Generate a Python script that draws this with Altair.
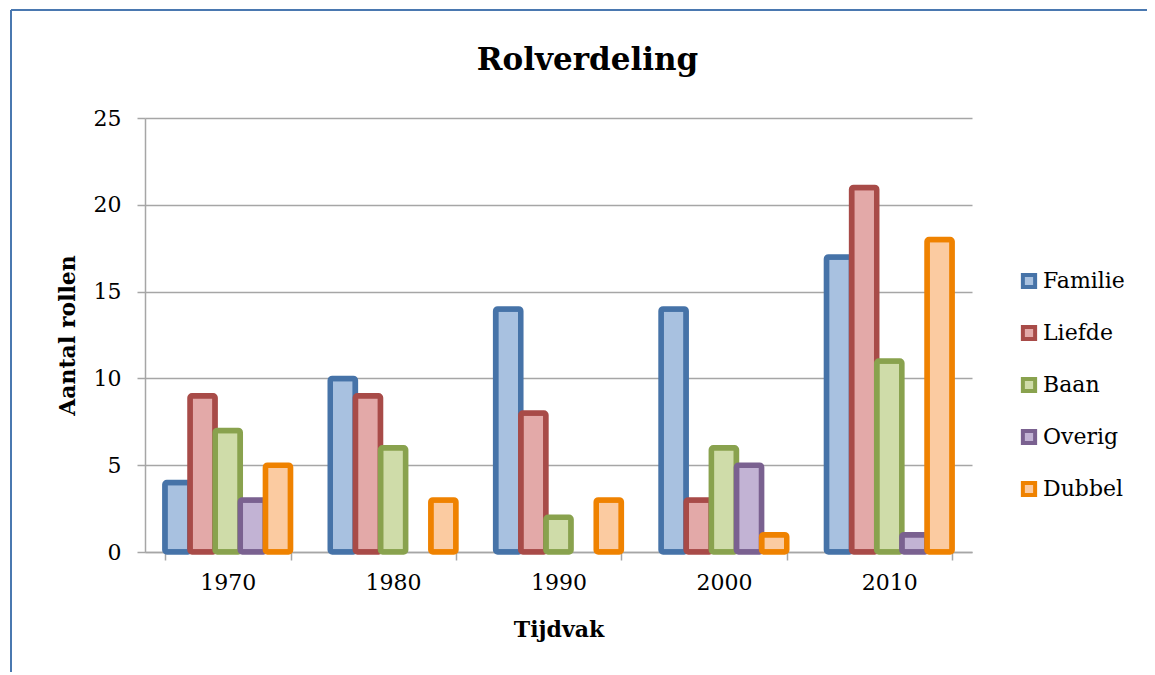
import altair as alt
import pandas as pd

periods = ["1970", "1980", "1990", "2000", "2010"]
series = ["Familie", "Liefde", "Baan", "Overig", "Dubbel"]
familie = [4, 10, 14, 14, 17]
liefde = [9, 9, 8, 3, 21]
baan = [7, 6, 2, 6, 11]
overig = [3, 0, 0, 5, 1]
dubbel = [5, 3, 3, 1, 18]
y_ticks = [0, 5, 10, 15, 20, 25]

stroke_colors = ["#4673a8", "#a84b48", "#89a24e", "#7a6190", "#ef8200"]
fill_colors = ["#a8c1e0", "#e3a9a8", "#cfdca9", "#c2b3d4", "#fbcba1"]

rows = []
for name, vals in zip(series, [familie, liefde, baan, overig, dubbel]):
    for p, v in zip(periods, vals):
        rows.append({"Tijdvak": p, "Reeks": name, "Aantal": v})
df = pd.DataFrame(rows)

FONT = "DejaVu Serif"

legend_props = dict(title=None, orient="none", legendX=873, legendY=152,
                    symbolType="square", symbolSize=150, symbolStrokeWidth=4,
                    labelFontSize=22, labelFont=FONT, labelColor="black",
                    labelOffset=3, rowPadding=22)

bars = alt.Chart(df).transform_filter(alt.datum.Aantal > 0).mark_bar(
    strokeWidth=5.5, cornerRadius=2
).encode(
    x=alt.X("Tijdvak:N", sort=periods,
            scale=alt.Scale(paddingInner=0.24, paddingOuter=0.12),
            axis=alt.Axis(title="Tijdvak", labelAngle=0, tickBand="extent",
                          grid=False, tickSize=8, labelPadding=12,
                          titlePadding=26)),
    xOffset=alt.XOffset("Reeks:N", sort=series, scale=alt.Scale(domain=series)),
    y=alt.Y("Aantal:Q", scale=alt.Scale(domain=[0, 25]),
            axis=alt.Axis(title="Aantal rollen", values=y_ticks, tickSize=8,
                          labelPadding=16, titlePadding=14)),
    fill=alt.Fill("Reeks:N", scale=alt.Scale(domain=series, range=fill_colors),
                  legend=alt.Legend(**legend_props)),
    stroke=alt.Stroke("Reeks:N", scale=alt.Scale(domain=series, range=stroke_colors),
                      legend=alt.Legend(**legend_props)),
)

frame_df = pd.DataFrame({"k": [0]})
top_line = alt.Chart(frame_df).mark_rule(color="#4a78b0", strokeWidth=2).encode(
    x=alt.value(-134), x2=alt.value(1010), y=alt.value(-108)
)
left_line = alt.Chart(frame_df).mark_rule(color="#4a78b0", strokeWidth=2).encode(
    x=alt.value(-134), y=alt.value(-108), y2=alt.value(575)
)

chart = alt.layer(bars, top_line, left_line).properties(
    width=827, height=434,
    autosize=alt.AutoSizeParams(type="none"),
    padding={"left": 137, "top": 110, "right": 175, "bottom": 120},
    title=alt.TitleParams("Rolverdeling", fontSize=31, font=FONT, fontWeight="bold",
                          color="black", anchor="middle", dx=29, offset=-68),
).configure_view(stroke=None).configure_axis(
    labelFont=FONT, labelFontSize=22, labelColor="black",
    titleFont=FONT, titleFontSize=22, titleFontWeight="bold", titleColor="black",
    gridColor="#a6a6a6", gridWidth=1.5, domainColor="#a6a6a6", domainWidth=1.5,
    tickColor="#a6a6a6", tickWidth=1.5,
).configure_axisY(grid=True).configure_axisX(grid=False)

chart.save("out.html", embed_options={"renderer": "svg", "actions": False})
